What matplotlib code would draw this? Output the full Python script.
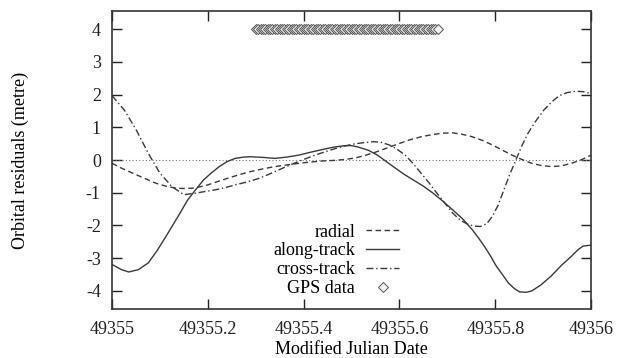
import matplotlib
matplotlib.use("Agg")
import matplotlib.pyplot as plt
import numpy as np

MJD0 = 49355.0

# along-track (solid)
along_t = [0.0, 0.02, 0.035, 0.055, 0.076, 0.095, 0.117, 0.138, 0.158, 0.175, 0.191, 0.207,
           0.224, 0.24, 0.257, 0.275, 0.29, 0.315, 0.34, 0.365, 0.39, 0.415, 0.439, 0.465,
           0.488, 0.5, 0.513, 0.535, 0.554, 0.57, 0.587, 0.608, 0.629, 0.65, 0.67, 0.69,
           0.711, 0.732, 0.752, 0.765, 0.777, 0.79, 0.802, 0.815, 0.827, 0.84, 0.851, 0.865,
           0.876, 0.895, 0.917, 0.938, 0.959, 0.972, 0.983, 1.0]
along_v = [-3.19, -3.35, -3.42, -3.35, -3.14, -2.75, -2.23, -1.72, -1.22, -0.9, -0.61, -0.4,
           -0.2, -0.05, 0.05, 0.09, 0.1, 0.08, 0.05, 0.09, 0.15, 0.24, 0.32, 0.4,
           0.44, 0.44, 0.4, 0.3, 0.15, -0.02, -0.2, -0.42, -0.61, -0.8, -1.01, -1.25,
           -1.52, -1.8, -2.13, -2.38, -2.63, -2.93, -3.24, -3.5, -3.75, -3.93, -4.03, -4.04,
           -4.0, -3.82, -3.54, -3.22, -2.94, -2.75, -2.63, -2.6]

# radial (dashed)
radial_t = [0.0, 0.02, 0.043, 0.068, 0.092, 0.113, 0.134, 0.15, 0.167, 0.183, 0.2, 0.22,
            0.241, 0.265, 0.29, 0.315, 0.34, 0.365, 0.39, 0.415, 0.439, 0.465, 0.488, 0.51,
            0.53, 0.55, 0.571, 0.595, 0.62, 0.645, 0.67, 0.69, 0.711, 0.73, 0.752, 0.773,
            0.794, 0.815, 0.835, 0.855, 0.876, 0.897, 0.917, 0.938, 0.959, 0.98, 1.0]
radial_v = [-0.1, -0.25, -0.4, -0.56, -0.71, -0.8, -0.86, -0.87, -0.86, -0.82, -0.76, -0.66,
            -0.56, -0.45, -0.35, -0.27, -0.2, -0.15, -0.1, -0.06, -0.03, -0.01, 0.02, 0.07,
            0.15, 0.24, 0.35, 0.48, 0.61, 0.71, 0.78, 0.82, 0.83, 0.79, 0.71, 0.6,
            0.46, 0.3, 0.15, 0.02, -0.1, -0.17, -0.2, -0.18, -0.1, 0.01, 0.15]

# cross-track (dash-dot)
cross_t = [0.0, 0.026, 0.051, 0.076, 0.1, 0.125, 0.15, 0.175, 0.195, 0.216, 0.237, 0.257,
           0.282, 0.307, 0.33, 0.356, 0.38, 0.406, 0.43, 0.455, 0.48, 0.505, 0.525, 0.546,
           0.562, 0.579, 0.595, 0.612, 0.628, 0.645, 0.662, 0.678, 0.695, 0.711, 0.728, 0.744,
           0.757, 0.769, 0.782, 0.794, 0.806, 0.818, 0.83, 0.843, 0.855, 0.868, 0.885, 0.901,
           0.918, 0.934, 0.95, 0.967, 0.983, 1.0]
cross_v = [1.97, 1.52, 0.91, 0.2, -0.4, -0.81, -1.06, -1.01, -0.96, -0.91, -0.84, -0.76,
           -0.67, -0.56, -0.42, -0.25, -0.1, 0.05, 0.18, 0.3, 0.41, 0.49, 0.53, 0.56,
           0.54, 0.46, 0.33, 0.15, -0.1, -0.4, -0.7, -1.01, -1.32, -1.62, -1.85, -1.97,
           -2.02, -2.03, -1.95, -1.72, -1.38, -0.91, -0.45, 0.0, 0.42, 0.81, 1.2, 1.52,
           1.78, 1.97, 2.06, 2.1, 2.09, 2.03]

# GPS data epochs (fraction of day) at residual level 4
gps_t = [0.300, 0.305, 0.310, 0.315, 0.320, 0.325, 0.330, 0.335, 0.340, 0.345,
         0.350, 0.355, 0.360, 0.365, 0.370, 0.375, 0.380, 0.385, 0.390, 0.395,
         0.400, 0.405, 0.410, 0.415, 0.420, 0.425, 0.430, 0.435, 0.440, 0.445,
         0.450, 0.455, 0.460, 0.465, 0.470, 0.475, 0.480, 0.485, 0.490, 0.495,
         0.500, 0.505, 0.510, 0.515, 0.520, 0.525, 0.530, 0.535, 0.540, 0.545,
         0.550, 0.555, 0.560, 0.565, 0.570, 0.575, 0.580, 0.585, 0.590, 0.595,
         0.600, 0.605, 0.610, 0.615, 0.620, 0.625, 0.630, 0.635, 0.640, 0.645,
         0.650, 0.655, 0.660, 0.665, 0.670, 0.675, 0.680]
gps_level = 4.0

xticks = [49355.0, 49355.2, 49355.4, 49355.6, 49355.8, 49356.0]
xtick_labels = ["49355", "49355.2", "49355.4", "49355.6", "49355.8", "49356"]
yticks = [-4, -3, -2, -1, 0, 1, 2, 3, 4]
ytick_labels = ["-4", "-3", "-2", "-1", "0", "1", "2", "3", "4"]

plt.rcParams['font.family'] = ['Liberation Serif', 'DejaVu Serif']
plt.rcParams['font.size'] = 13

fig = plt.figure(figsize=(6.17, 3.58), dpi=100)
ax = fig.add_axes([0.1815, 0.137, 0.7765, 0.832])

lc = '#3a3a3a'
ax.axhline(0, color='#777777', lw=0.8, ls=(0, (1, 2)))

ax.plot(MJD0 + np.array(radial_t), radial_v, color=lc, lw=1.0, ls=(0, (4, 2.5)), label='radial')
ax.plot(MJD0 + np.array(along_t), along_v, color=lc, lw=1.0, ls='-', label='along-track')
ax.plot(MJD0 + np.array(cross_t), cross_v, color=lc, lw=1.0, ls=(0, (5, 2, 1, 2)), label='cross-track')
ax.plot(MJD0 + np.array(gps_t), [gps_level] * len(gps_t), ls='none', marker='D', ms=4.8,
        mfc='#f2f2f2', mec='#555555', mew=0.7, label='GPS data')

ax.set_xlim(49355.0, 49356.0)
ax.set_ylim(-4.55, 4.55)
ax.set_xticks(xticks)
ax.set_xticklabels(xtick_labels)
ax.set_yticks(yticks)
ax.set_yticklabels(ytick_labels)
ax.tick_params(direction='in', length=7, width=1.0, top=True, right=True, colors='#222222')
ax.tick_params(axis='x', pad=9)
ax.tick_params(axis='y', pad=8)
for s in ax.spines.values():
    s.set_linewidth(1.2)
    s.set_color('#333333')

ax.set_xlabel('Modified Julian Date', labelpad=2)
ax.set_ylabel('Orbital residuals (metre)')
ax.yaxis.set_label_coords(-0.173, 0.5)

ax.legend(loc='lower right', bbox_to_anchor=(0.6, 0.04), frameon=False, markerfirst=False,
          handlelength=1.85, labelspacing=0.1, handletextpad=0.6, borderpad=0.0,
          borderaxespad=0.0)

fig.savefig('out.png', dpi=100)
